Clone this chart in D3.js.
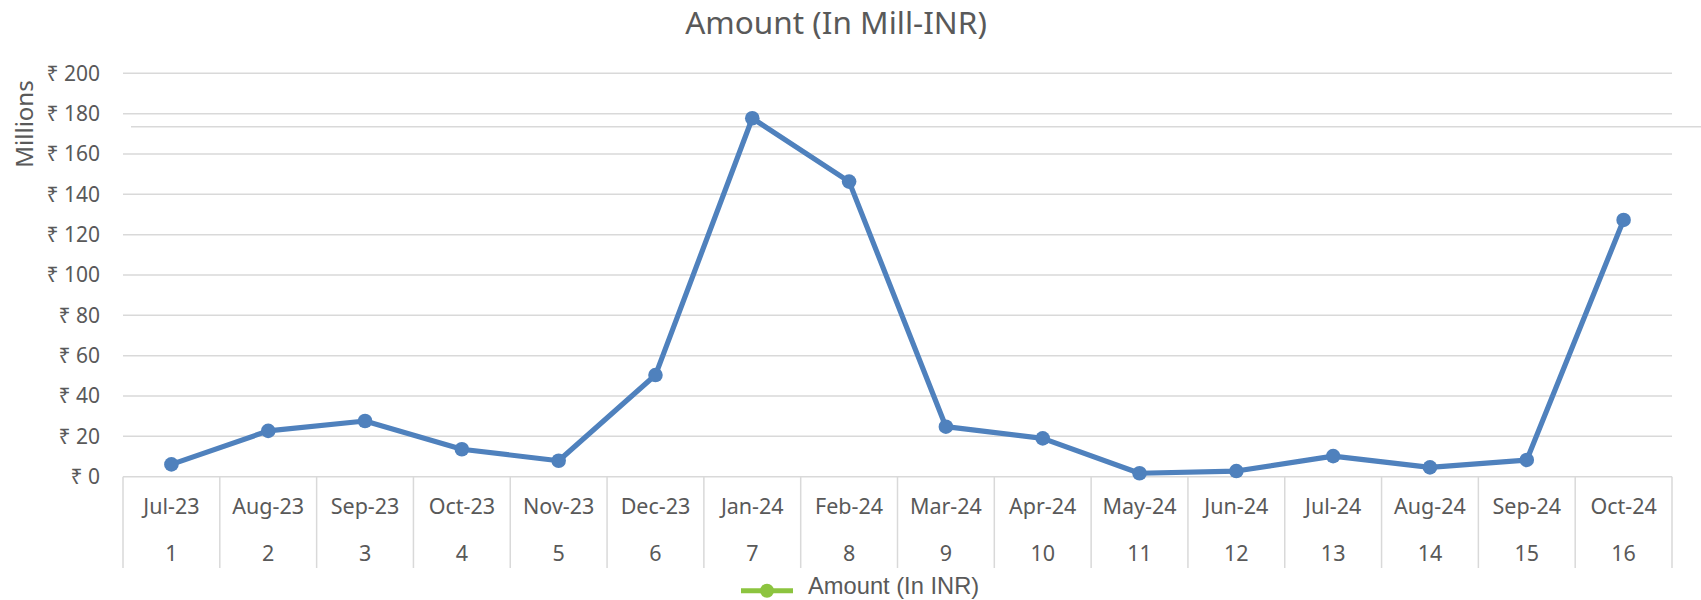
<!DOCTYPE html>
<html>
<head>
<meta charset="utf-8">
<script src="https://cdn.jsdelivr.net/npm/d3@7"></script>
<style>
  html, body { margin: 0; padding: 0; background: #fff; }
  svg { display: block; }
</style>
</head>
<body>
<svg id="chart" width="1701" height="600"></svg>
<script>
const months = ["Jul-23","Aug-23","Sep-23","Oct-23","Nov-23","Dec-23","Jan-24","Feb-24","Mar-24","Apr-24","May-24","Jun-24","Jul-24","Aug-24","Sep-24","Oct-24"];
const indices = ["1","2","3","4","5","6","7","8","9","10","11","12","13","14","15","16"];
const amounts = [6.1, 22.7, 27.6, 13.6, 7.9, 50.4, 177.7, 146.3, 24.8, 19.0, 1.7, 2.8, 10.2, 4.6, 8.3, 127.3];
const yTicks = [0, 20, 40, 60, 80, 100, 120, 140, 160, 180, 200];
const titleText = "Amount (In Mill-INR)";
const yAxisTitle = "Millions";
const legendText = "Amount (In INR)";

(function () {
const svg = d3.select("#chart");
const pLeft = 123, pRight = 1672, pTop = 73.3, pBottom = 476.7;
const grey = "#d9d9d9", textCol = "#595959";
const font = "'Noto Sans', 'Open Sans', sans-serif";

const x = d3.scaleBand().domain(months).range([pLeft, pRight]).padding(0);
const y = d3.scaleLinear().domain([0, 200]).range([pBottom, pTop]);

// gridlines
svg.append("g").selectAll("line").data(yTicks.filter(d => d > 0)).join("line")
  .attr("x1", pLeft).attr("x2", pRight)
  .attr("y1", d => y(d)).attr("y2", d => y(d))
  .attr("stroke", grey).attr("stroke-width", 1.5);

// stray line
svg.append("line").attr("x1", 131).attr("x2", 1701).attr("y1", 126.7).attr("y2", 126.7)
  .attr("stroke", grey).attr("stroke-width", 1.5);

// y axis labels
const yAxis = d3.axisLeft(y).tickValues(yTicks).tickSize(0).tickPadding(23)
  .tickFormat(d => "₹ " + d);
const gy = svg.append("g").attr("transform", `translate(${pLeft},0)`).call(yAxis);
gy.select(".domain").remove();
gy.selectAll("text").attr("font-family", font).attr("font-size", 21).attr("fill", textCol);

// x axis baseline and dividers
svg.append("line").attr("x1", pLeft).attr("x2", pRight).attr("y1", pBottom).attr("y2", pBottom)
  .attr("stroke", grey).attr("stroke-width", 1.5);
const bounds = months.map(m => x(m)).concat([x(months[months.length - 1]) + x.bandwidth()]);
svg.append("g").selectAll("line").data(bounds).join("line")
  .attr("x1", d => d).attr("x2", d => d).attr("y1", pBottom).attr("y2", 568)
  .attr("stroke", grey).attr("stroke-width", 1.5);

const xAxis = d3.axisBottom(x).tickSize(0).tickPadding(0);
const gx = svg.append("g").attr("transform", `translate(0,${pBottom})`).call(xAxis);
gx.select(".domain").remove();
gx.selectAll("text").attr("y", 30).attr("dy", "0.35em")
  .attr("font-family", font).attr("font-size", 21.5).attr("fill", textCol);

svg.append("g").selectAll("text").data(months).join("text")
  .attr("x", d => x(d) + x.bandwidth() / 2).attr("y", 553).attr("dy", "0.35em")
  .attr("text-anchor", "middle").attr("font-family", font).attr("font-size", 21.5).attr("fill", textCol)
  .text((d, i) => indices[i]);

// line series
const data = months.map((m, i) => ({ m, v: amounts[i] }));
const line = d3.line().x(d => x(d.m) + x.bandwidth() / 2).y(d => y(d.v));
svg.append("path").datum(data).attr("d", line)
  .attr("fill", "none").attr("stroke", "#4f81bd").attr("stroke-width", 5.2)
  .attr("stroke-linejoin", "round").attr("stroke-linecap", "round");
svg.append("g").selectAll("circle").data(data).join("circle")
  .attr("cx", d => x(d.m) + x.bandwidth() / 2).attr("cy", d => y(d.v)).attr("r", 7.3)
  .attr("fill", "#4f81bd");

// title
svg.append("text").attr("x", 836).attr("y", 34).attr("text-anchor", "middle")
  .attr("font-family", font).attr("font-size", 31.5).attr("fill", textCol).text(titleText);

// y axis title
svg.append("text").attr("transform", "translate(25,124) rotate(-90)")
  .attr("text-anchor", "middle").attr("dy", "0.35em")
  .attr("font-family", font).attr("font-size", 24).attr("fill", textCol).text(yAxisTitle);

// legend
svg.append("line").attr("x1", 741).attr("x2", 793).attr("y1", 590.7).attr("y2", 590.7)
  .attr("stroke", "#8cc43f").attr("stroke-width", 5);
svg.append("circle").attr("cx", 767).attr("cy", 590.7).attr("r", 7).attr("fill", "#8cc43f");
svg.append("text").attr("x", 808).attr("y", 594).attr("font-family", "'Liberation Sans', Arial, sans-serif")
  .attr("font-size", 23.7).attr("fill", textCol).text(legendText);
})();
</script>
</body>
</html>
